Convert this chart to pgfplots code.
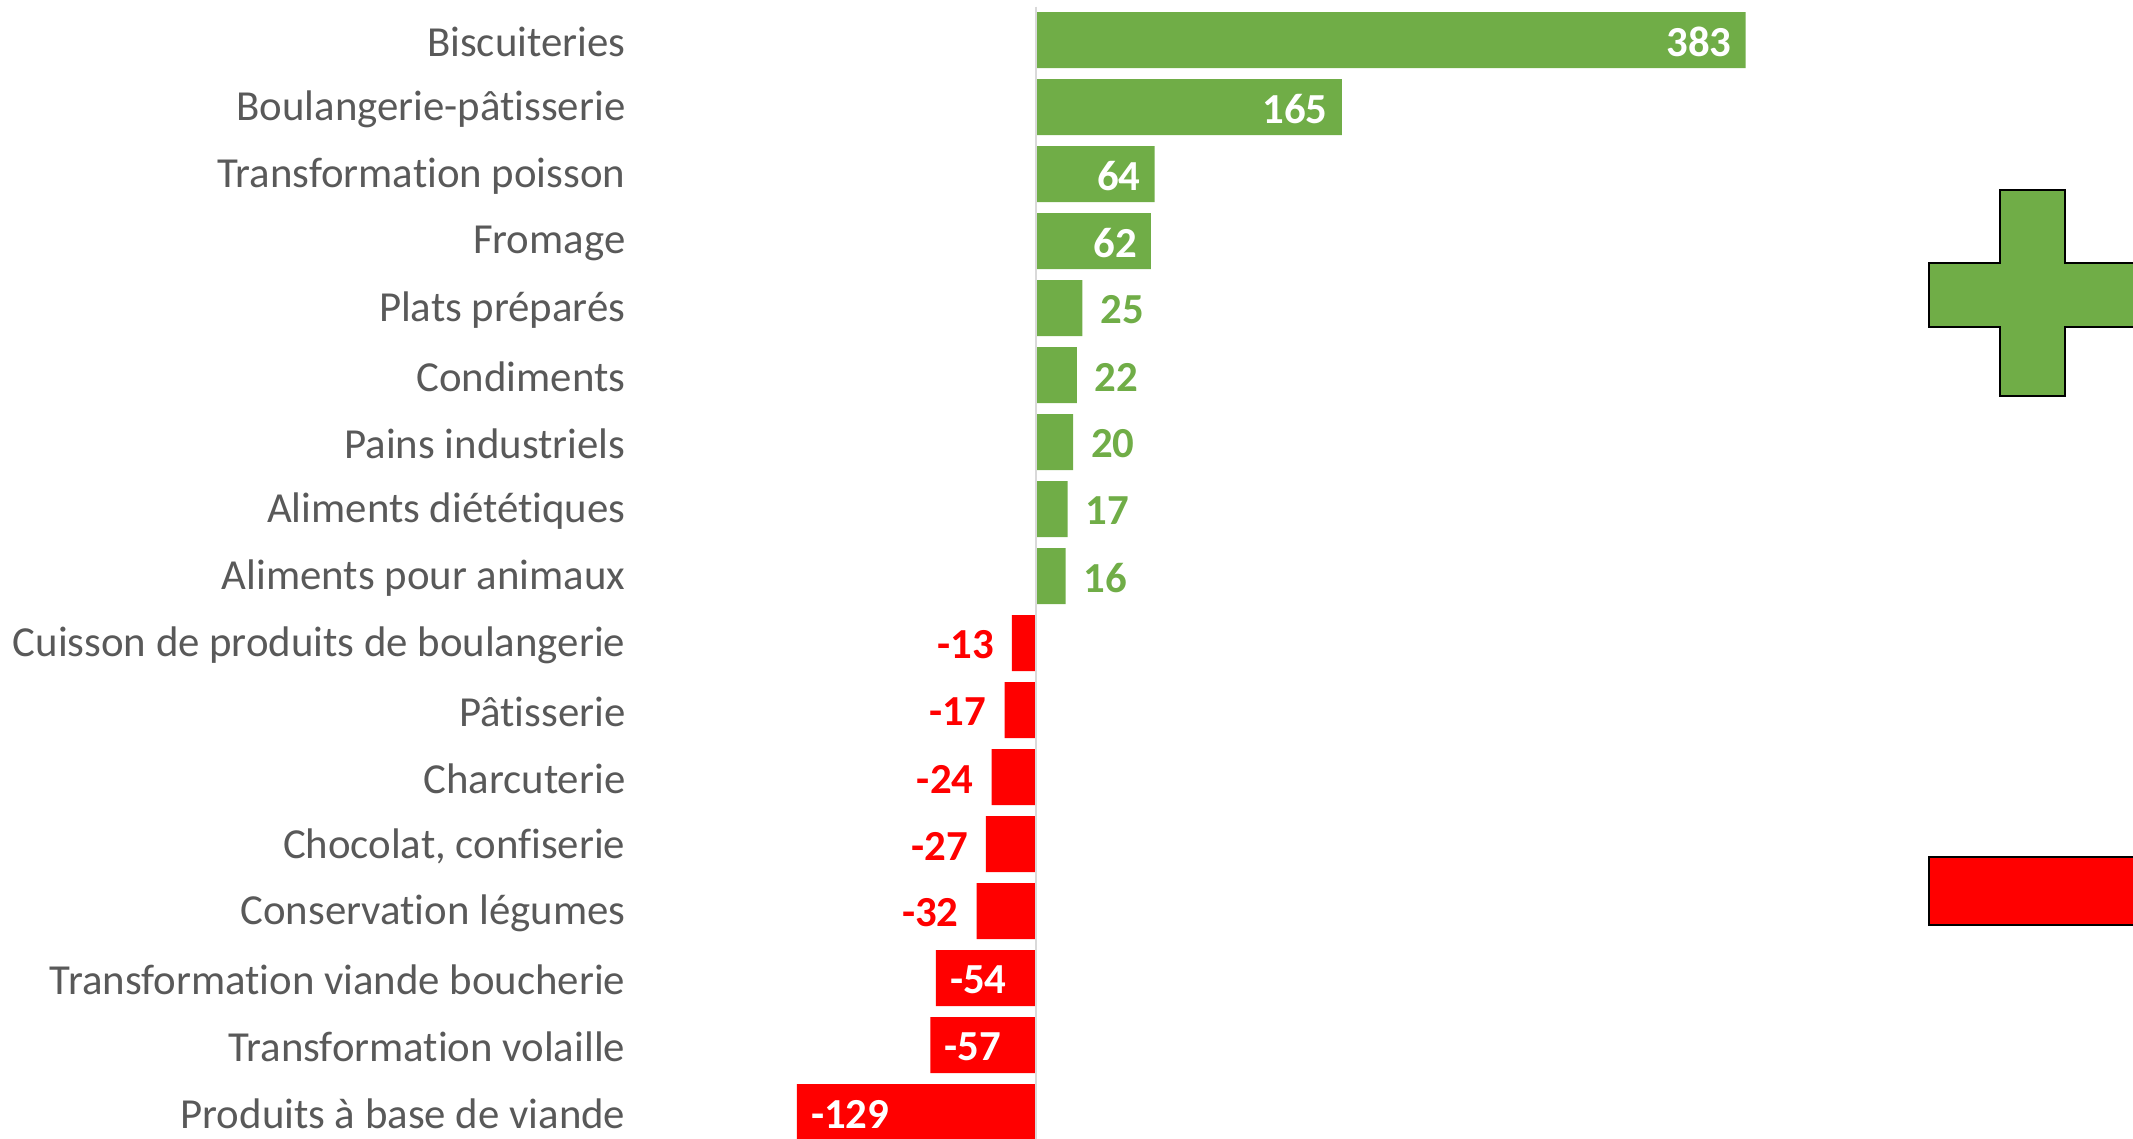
\documentclass[border=0pt]{standalone}
\usepackage{fontspec}
\setmainfont{Carlito}[Ligatures=NoCommon]
\usepackage{pgfplots}
\pgfplotsset{compat=1.18}
\definecolor{posgreen}{HTML}{70AD47}
\definecolor{negred}{HTML}{FF0000}
\definecolor{labelgray}{HTML}{595959}
\definecolor{axisgray}{HTML}{D9D9D9}

\begin{document}
\begin{tikzpicture}
\begin{axis}[
  x=0.46325pt, y=16.75pt,
  xmin=-214, xmax=592, ymin=-0.5, ymax=16.5,
  y dir=reverse,
  enlargelimits=false,
  axis line style={draw=none},
  xtick=\empty,
  ytick={0,...,16},
  yticklabels={Biscuiteries,Boulangerie-pâtisserie,Transformation poisson,Fromage,
    Plats préparés,Condiments,Pains industriels,Aliments diététiques,Aliments pour animaux,
    Cuisson de produits de boulangerie,Pâtisserie,Charcuterie,{Chocolat, confiserie},
    Conservation légumes,Transformation viande boucherie,Transformation volaille,
    Produits à base de viande},
  major tick length=0pt,
  yticklabel style={font=\fontsize{10.7}{12.8}\selectfont, text=labelgray, yshift=-0.5pt},
  xbar, bar width=14pt,
  nodes near coords,
  /pgf/number format/assume math mode=true,
  every node near coord/.append style={font=\bfseries\fontsize{10.7}{12.8}\selectfont, yshift=-0.5pt},
  clip=false,
]
% positive, label inside
\addplot[draw=none, fill=posgreen, bar shift=0pt,
  nodes near coords style={anchor=east, text=white}] coordinates {
  (383,0) (165,1) (64,2) (62,3)};
% positive, label outside
\addplot[draw=none, fill=posgreen, bar shift=0pt,
  nodes near coords style={anchor=west, text=posgreen, xshift=1pt}] coordinates {
  (25,4) (22,5) (20,6) (17,7) (16,8)};
% negative, label outside
\addplot[draw=none, fill=negred, bar shift=0pt,
  nodes near coords style={anchor=east, text=negred, xshift=-1pt}] coordinates {
  (-13,9) (-17,10) (-24,11) (-27,12) (-32,13)};
% negative, label inside
\addplot[draw=none, fill=negred, bar shift=0pt,
  nodes near coords style={anchor=west, text=white}] coordinates {
  (-54,14) (-57,15) (-129,16)};

\draw[color=axisgray, line width=0.4pt] (axis cs:0,-0.5) -- (axis cs:0,16.6);

% decorative plus / minus signs
\draw[fill=posgreen, line width=0.6pt]
  (axis cs:481.9,3.328) -- (axis cs:520.2,3.328) -- (axis cs:520.2,2.239)
  -- (axis cs:555.3,2.239) -- (axis cs:555.3,3.328) -- (axis cs:600,3.328)
  -- (axis cs:600,4.284) -- (axis cs:555.3,4.284) -- (axis cs:555.3,5.313)
  -- (axis cs:520.2,5.313) -- (axis cs:520.2,4.284) -- (axis cs:481.9,4.284) -- cycle;
\draw[fill=negred, line width=0.6pt] (axis cs:481.9,12.194) rectangle (axis cs:620,13.209);

\coordinate (tl) at (axis cs:-559.1,-0.597);
\coordinate (br) at (axis cs:592,16.388);
\end{axis}
\pgfresetboundingbox
\path[use as bounding box] (tl) rectangle (br);
\end{tikzpicture}
\end{document}
